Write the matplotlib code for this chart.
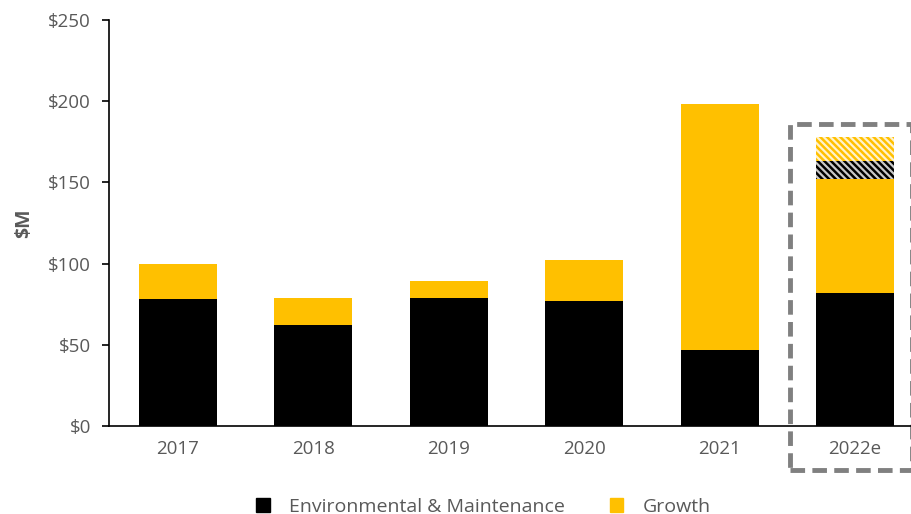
import matplotlib
matplotlib.use('Agg')
import matplotlib.pyplot as plt
from matplotlib.patches import Rectangle, Patch

years = ['2017', '2018', '2019', '2020', '2021', '2022e']
env_maint = [78, 62, 79, 77, 47, 82]
growth = [22, 17, 10, 25, 151, 70]
# extra estimate range on 2022e (hatched)
env_extra = [0, 0, 0, 0, 0, 11]
growth_extra = [0, 0, 0, 0, 0, 15]

BLACK = '#000000'
GOLD = '#FFC000'
GREY = '#595959'

plt.rcParams['font.family'] = ['Open Sans', 'DejaVu Sans']
plt.rcParams['hatch.linewidth'] = 1.6

fig = plt.figure(figsize=(9.12, 5.14), dpi=100)
ax = fig.add_axes([0.1195, 0.1712, 0.8937, 0.79])

x = list(range(len(years)))
w = 0.576
base2 = [a + b for a, b in zip(env_maint, growth)]
base3 = [a + b for a, b in zip(base2, env_extra)]

ax.bar(x, env_maint, w, color=BLACK, label='Environmental & Maintenance')
ax.bar(x, growth, w, bottom=env_maint, color=GOLD, label='Growth')

plt.rcParams['hatch.color'] = '#c8c8c8'
ax.bar(x, env_extra, w, bottom=base2, color=BLACK, hatch='\\\\\\\\\\', linewidth=0)
plt.rcParams['hatch.color'] = '#fff2cc'
ax.bar(x, growth_extra, w, bottom=base3, color=GOLD, hatch='\\\\\\\\\\', linewidth=0)

ax.set_xlim(-0.51, 5.51)
ax.set_ylim(0, 250)
ax.set_yticks([0, 50, 100, 150, 200, 250])
ax.set_yticklabels(['$0', '$50', '$100', '$150', '$200', '$250'])
ax.set_xticks(x)
ax.set_xticklabels(years)
ax.tick_params(axis='y', colors=GREY, labelsize=13.5, length=5, width=1.2, direction='out', pad=8)
ax.tick_params(axis='y', color=BLACK)
ax.tick_params(axis='x', colors=GREY, labelsize=13.5, length=0, pad=10)
for s in ['top', 'right']:
    ax.spines[s].set_visible(False)
ax.spines['left'].set_linewidth(1.2)
ax.spines['bottom'].set_linewidth(1.2)
ax.set_ylabel('$M', color=GREY, fontsize=14, fontweight='bold', labelpad=10)

# dashed box round the estimate year
box = Rectangle((4.52, -27), 0.9, 213, transform=ax.transData, fill=False,
                edgecolor='#808080', linewidth=3.5, linestyle=(0, (3, 1.5)), clip_on=False)
ax.add_patch(box)

handles = [Patch(color=BLACK, label='Environmental & Maintenance'),
           Patch(color=GOLD, label='Growth')]
leg = fig.legend(handles=handles, loc='center', bbox_to_anchor=(0.53, 0.014), ncol=2,
                 frameon=False, fontsize=14, handlelength=0.7, handleheight=0.7,
                 columnspacing=2.3, handletextpad=1.0, borderpad=0)
for t in leg.get_texts():
    t.set_color(GREY)

fig.savefig('out.png', dpi=100)
